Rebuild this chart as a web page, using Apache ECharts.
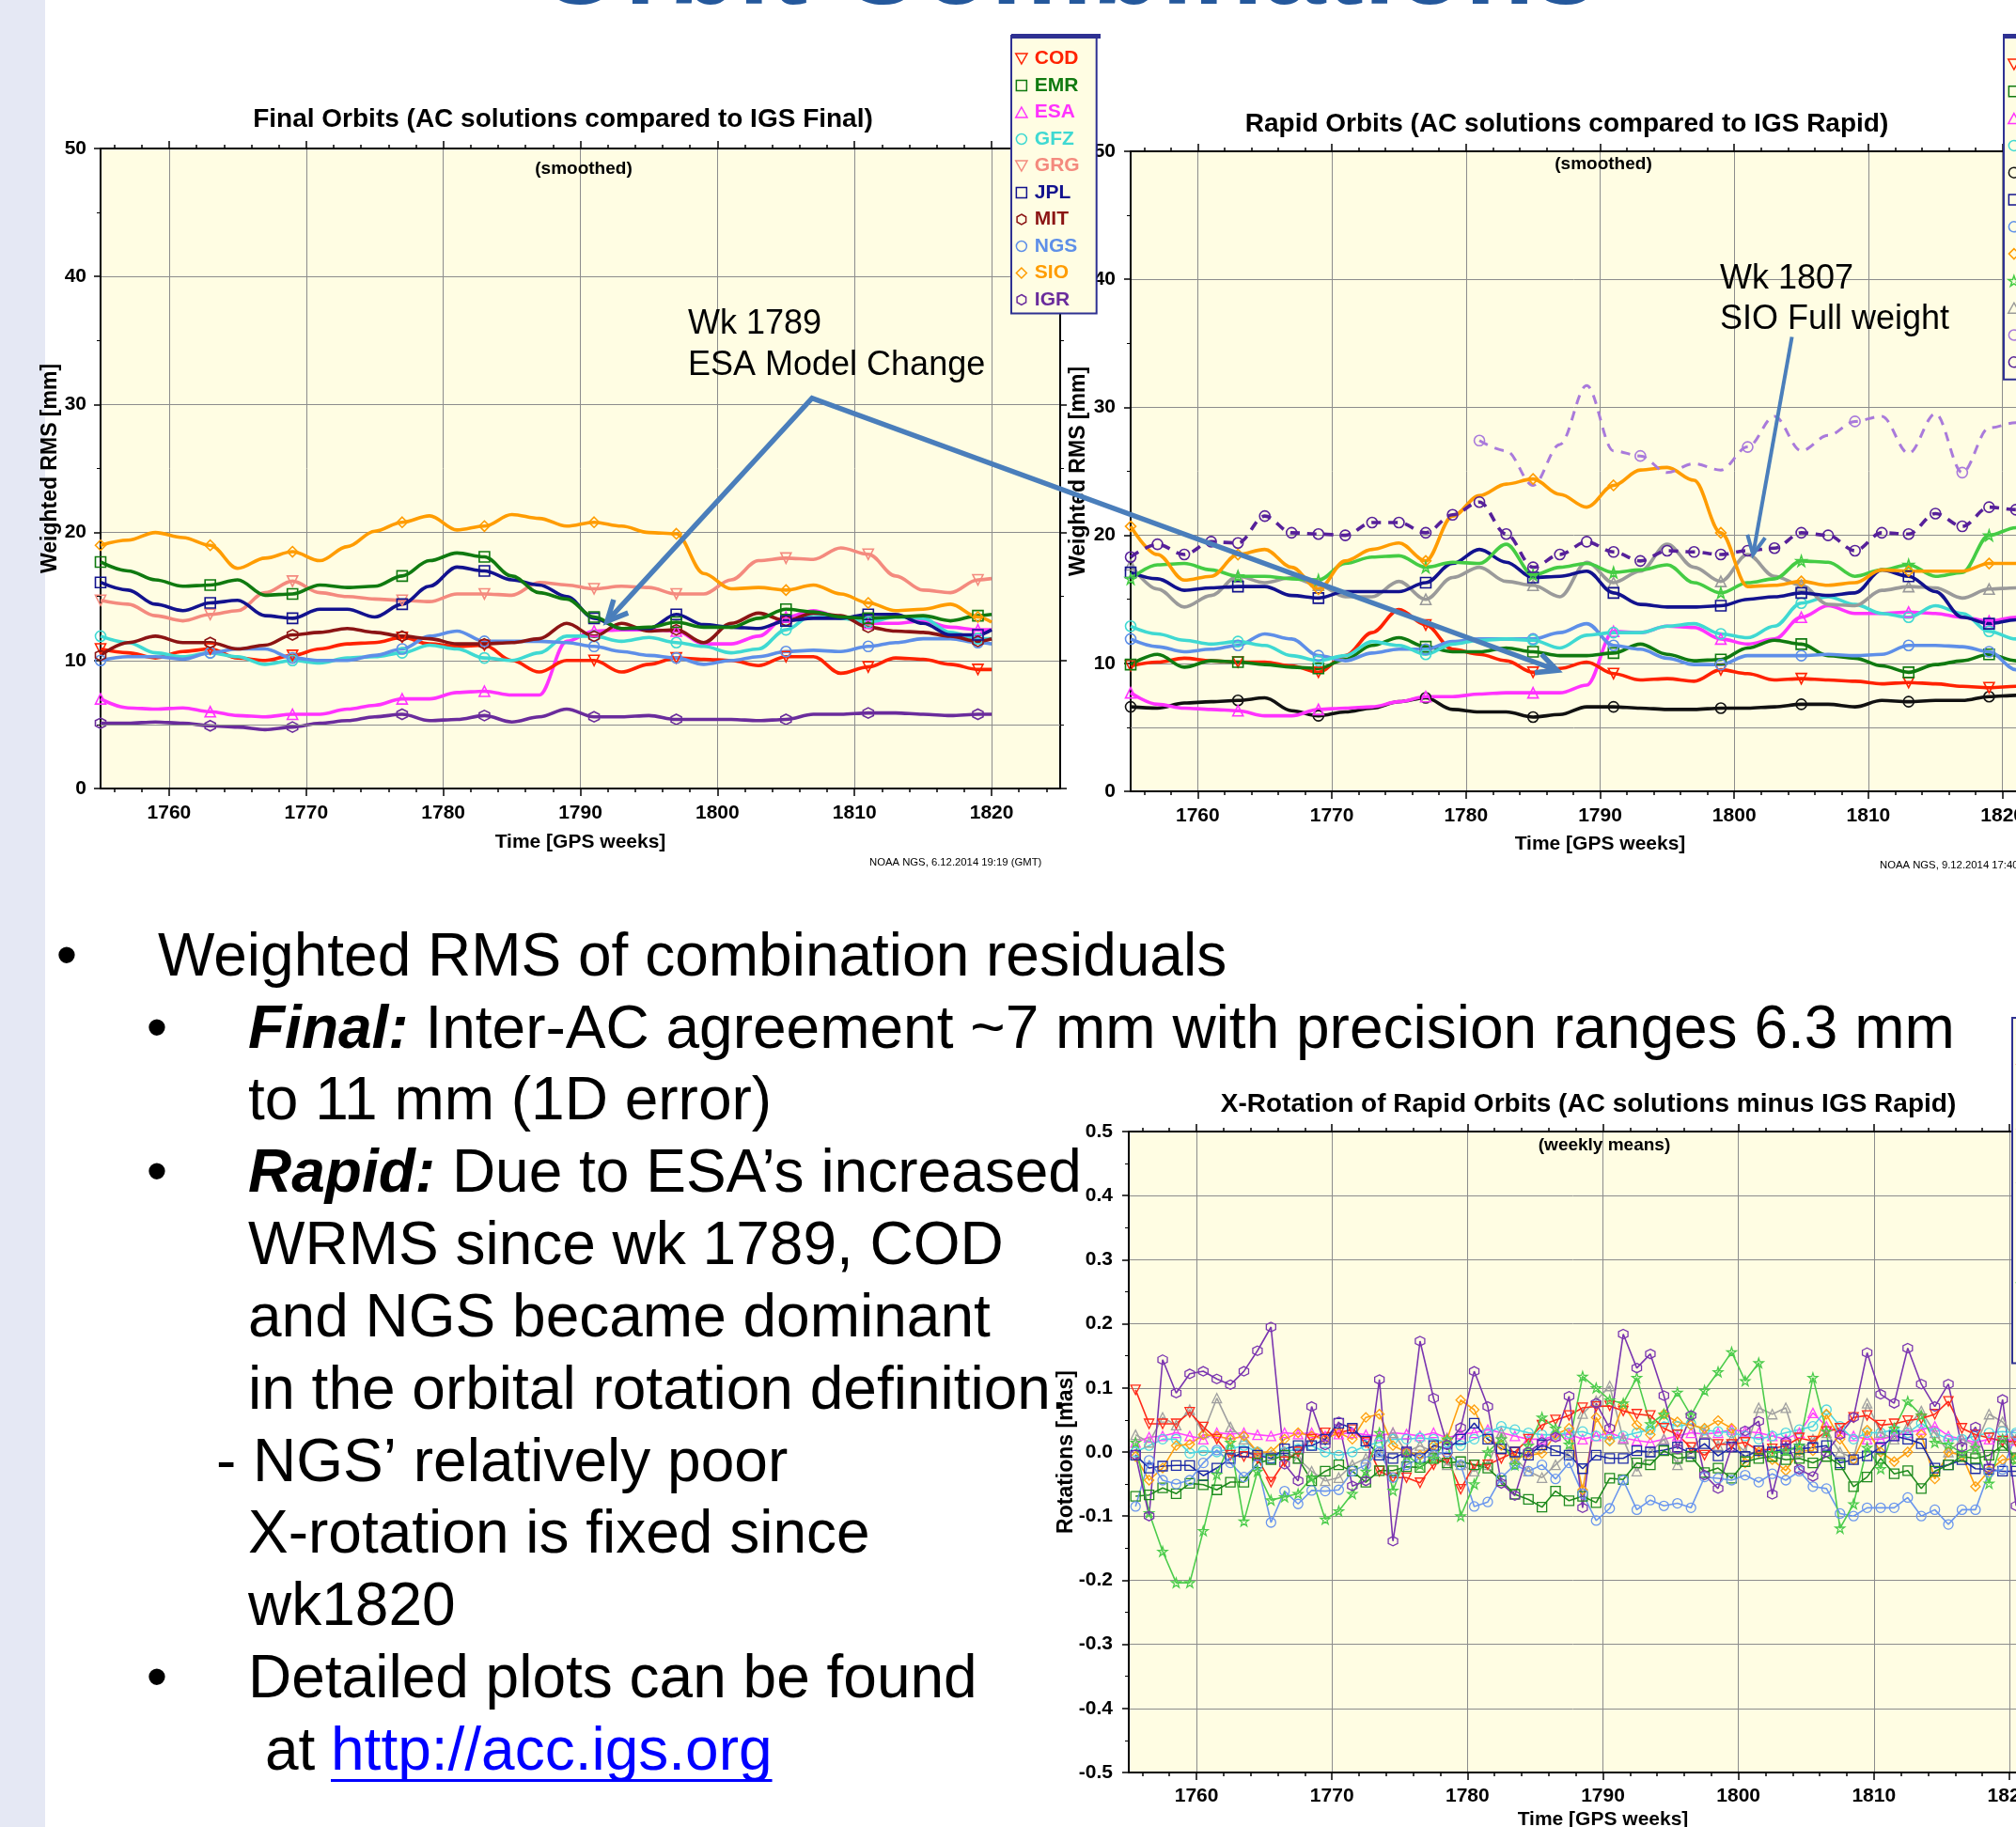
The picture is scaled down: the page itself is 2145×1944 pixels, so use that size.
<!DOCTYPE html>
<html>
<head>
<meta charset="utf-8">
<title>Orbit Combinations</title>
<script src="https://cdn.jsdelivr.net/npm/echarts@6.0.0/dist/echarts.min.js"></script>
<style>
html,body{margin:0;padding:0;background:#ffffff;overflow:hidden;}
#chart{width:2145px;height:1944px;}
</style>
</head>
<body>
<div id="chart"></div>
<script>
// ===================== DATA =====================
// Final orbits: smoothed WRMS [mm] vs GPS week
const finalWeeks = [1755,1757,1759,1761,1763,1765,1767,1769,1771,1773,1775,1777,1779,1781,1783,1785,1787,1789,1791,1793,1795,1797,1799,1801,1803,1805,1807,1809,1811,1813,1815,1817,1819,1820];
const finalSIO = [19.0,19.4,20.0,19.6,19.0,17.2,18.0,18.5,17.8,18.9,20.1,20.8,21.3,20.2,20.5,21.4,21.1,20.5,20.8,20.5,20.0,19.9,16.8,15.6,15.7,15.5,15.9,15.2,14.5,13.9,14.0,14.4,13.4,13.0];
const finalEMR = [17.7,17.0,16.3,15.8,15.9,16.3,15.1,15.2,15.9,15.7,15.8,16.6,17.8,18.4,18.1,16.6,15.3,14.8,13.4,12.5,12.6,13.0,12.6,12.6,13.3,14.0,13.8,13.4,13.3,13.4,13.5,13.1,13.5,13.6];
const finalJPL = [16.1,15.5,14.4,13.9,14.5,14.7,13.5,13.3,14.0,14.0,13.4,14.4,15.8,17.3,17.0,16.3,15.9,15.0,13.3,12.5,12.5,13.6,12.8,12.6,12.5,13.1,13.3,13.3,13.6,13.6,12.9,12.0,12.0,12.4];
const finalGRG = [14.7,14.4,13.5,13.1,13.6,13.9,15.3,16.2,15.3,15.0,14.8,14.7,14.6,15.2,15.2,15.1,16.1,15.9,15.6,15.8,15.7,15.2,15.2,16.3,17.8,18.0,17.9,18.8,18.3,16.6,15.5,15.3,16.3,16.4];
const finalMIT = [10.4,11.4,11.9,11.4,11.4,10.9,11.2,12.0,12.2,12.5,12.2,11.9,11.7,11.3,11.3,11.4,11.7,12.9,11.9,12.9,12.3,12.4,11.4,12.9,13.7,13.1,13.7,13.5,12.6,12.3,12.2,11.9,11.5,11.7];
const finalCOD = [10.9,10.6,10.2,10.7,10.9,10.2,10.0,10.4,10.9,11.3,11.4,11.8,11.3,11.1,11.2,10.0,9.1,10.0,10.0,9.1,9.7,10.2,10.1,10.0,9.6,10.3,10.3,9.0,9.5,10.2,10.1,9.7,9.3,9.3];
const finalGFZ = [11.9,11.4,10.6,10.3,10.6,10.3,9.7,10.0,9.8,10.2,10.3,10.6,11.2,10.9,10.2,10.0,10.6,11.9,11.9,11.5,11.8,11.4,11.1,10.6,10.9,12.4,13.6,13.3,13.0,13.4,13.3,12.2,11.7,11.7];
const finalNGS = [10.0,10.3,10.3,10.1,10.6,10.9,10.9,10.2,10.0,10.0,10.4,10.9,11.9,12.3,11.5,11.5,11.5,11.4,11.1,10.7,10.4,10.2,9.7,10.0,10.3,10.7,10.8,10.7,11.1,11.4,11.7,11.7,11.4,11.3];
const finalESA = [7.0,6.3,6.2,6.3,6.0,5.7,5.6,5.8,5.8,6.2,6.5,7.0,7.0,7.5,7.6,7.3,7.3,11.5,12.3,12.4,12.4,12.3,11.3,11.3,11.9,13.4,13.9,13.4,12.9,12.9,13.1,12.6,12.4,12.4];
const finalIGR = [5.1,5.1,5.2,5.1,4.9,4.8,4.6,4.8,5.1,5.3,5.6,5.8,5.3,5.4,5.7,5.2,5.6,6.2,5.6,5.6,5.7,5.4,5.4,5.4,5.3,5.4,5.8,5.8,5.9,5.9,5.8,5.7,5.8,5.8];
const finalMarkWeeks = [1755,1763,1769,1777,1783,1791,1797,1805,1811,1819];

// Rapid orbits: smoothed WRMS [mm] vs GPS week
const rapidWeeks = [1755,1757,1759,1761,1763,1765,1767,1769,1771,1773,1775,1777,1779,1781,1783,1785,1787,1789,1791,1793,1795,1797,1799,1801,1803,1805,1807,1809,1811,1813,1815,1817,1819,1821,1823];
const rapidSIO = [20.7,18.5,16.5,16.8,18.5,18.9,17.5,15.8,18.0,18.9,19.4,18.0,21.5,23.1,24.0,24.4,23.2,22.2,23.9,25.1,25.3,24.3,20.2,16.0,16.1,16.4,16.1,16.3,17.3,17.2,17.2,17.2,17.8,17.8,17.8];
const rapidUSN = [16.6,17.7,17.8,17.3,16.8,16.8,16.6,16.5,17.8,18.3,18.4,17.5,17.9,17.8,19.3,16.9,17.5,17.8,17.1,17.3,17.7,16.3,15.5,16.3,16.6,18.0,17.9,16.8,17.3,17.7,16.8,17.1,20.0,20.6,20.6];
const rapidJPL = [17.1,16.6,15.7,15.9,16.0,16.0,15.3,15.1,15.6,15.6,15.6,16.3,17.8,18.9,17.9,16.7,16.8,17.2,15.5,14.6,14.4,14.4,14.5,15.0,15.2,15.5,15.3,15.5,17.3,16.8,15.6,13.6,13.1,13.4,13.4];
const rapidWHU = [17.7,15.8,14.4,15.3,16.8,16.3,16.7,16.1,15.2,15.2,16.4,15.0,16.7,17.5,16.4,16.1,15.2,17.9,16.3,17.2,19.3,17.5,16.4,18.5,16.8,16.1,14.6,14.5,15.7,16.0,15.9,15.1,15.8,15.9,15.9];
const rapidGFZ = [12.9,12.3,11.8,11.5,11.7,11.4,10.6,10.2,10.6,11.7,11.4,10.7,11.5,11.8,11.9,11.8,11.2,12.2,12.4,12.4,12.9,13.1,12.3,12.0,12.9,14.7,15.2,14.6,13.9,13.6,14.5,13.9,12.5,11.9,11.9];
const rapidNGS = [11.9,11.3,10.9,11.1,11.4,12.3,11.9,10.6,10.2,10.8,11.1,11.1,11.7,11.9,11.9,11.9,12.4,13.1,11.4,11.1,10.4,9.9,9.9,10.6,10.6,10.6,10.7,10.6,10.7,11.4,11.4,11.3,10.9,9.5,9.2];
const rapidESA = [7.7,6.8,6.5,6.4,6.3,5.9,5.9,6.4,6.5,6.6,7.0,7.4,7.4,7.6,7.7,7.7,7.7,8.3,12.5,12.4,12.9,12.8,11.9,11.5,11.9,13.6,14.5,13.9,13.9,14.0,13.9,13.6,13.3,13.6,13.6];
const rapidEMR = [9.9,10.7,9.7,10.2,10.1,9.9,9.7,9.6,10.3,11.4,12.0,11.3,10.9,10.9,11.2,10.9,10.6,10.6,10.8,11.5,10.7,10.2,10.3,11.2,11.8,11.5,10.6,10.4,9.8,9.3,9.9,10.2,10.7,10.2,9.9];
const rapidCOD = [9.8,10.1,10.4,10.2,10.1,10.1,9.8,9.3,10.6,12.4,14.2,13.0,11.1,10.7,10.2,9.3,9.6,10.1,9.2,8.7,8.8,8.6,9.5,9.2,8.7,8.8,8.7,8.6,8.4,8.5,8.4,8.2,8.1,8.2,8.2];
const rapidGRG = [6.6,6.5,6.9,7.0,7.1,7.3,6.3,5.9,6.2,6.5,7.0,7.3,6.4,6.2,6.2,5.8,6.0,6.6,6.6,6.5,6.4,6.4,6.5,6.5,6.6,6.8,6.8,6.6,7.1,7.0,7.1,7.1,7.4,7.5,7.5];
const rapidIGR = [18.3,19.3,18.5,19.5,19.4,21.5,20.2,20.1,20.0,21.0,21.0,20.2,21.6,22.6,20.1,17.5,18.5,19.5,18.7,18.0,18.8,18.7,18.5,18.8,19.0,20.2,20.0,18.8,20.2,20.1,21.7,20.7,22.2,22.0,21.7];
const rapidIGV = [null,null,null,null,null,null,null,null,null,null,null,null,null,27.4,26.6,23.9,27.1,31.7,26.6,26.2,24.9,25.6,25.1,26.9,29.3,26.6,27.8,28.9,29.3,26.4,29.5,24.9,28.4,28.8,28.5];
const rapidMarkWeeks = [1755,1763,1769,1777,1785,1791,1799,1805,1813,1819];
const rapidIGVMarkWeeks = [1781,1793,1801,1809,1817];

// X-rotation of rapid orbits: weekly means [mas], GPS weeks 1755..1820
const rotWeeks = [1755,1756,1757,1758,1759,1760,1761,1762,1763,1764,1765,1766,1767,1768,1769,1770,1771,1772,1773,1774,1775,1776,1777,1778,1779,1780,1781,1782,1783,1784,1785,1786,1787,1788,1789,1790,1791,1792,1793,1794,1795,1796,1797,1798,1799,1800,1801,1802,1803,1804,1805,1806,1807,1808,1809,1810,1811,1812,1813,1814,1815,1816,1817,1818,1819,1820];
const rotCOD = [0.097,0.044,0.044,0.044,0.062,0.039,0.02,-0.005,-0.007,-0.01, -0.047,-0.015,0.0,0.02,0.03,0.03,0.035,0.015,-0.03,-0.04, -0.04,-0.048,-0.02,-0.01,-0.058,-0.02,-0.02,-0.01,0.0,0.02, 0.042,0.05,0.057,0.069,0.071,0.072,0.064,0.059,0.057,0.037, 0.027,0.007,-0.005,0.012,0.012,0.015,0.002,0.005,0.01,0.022, 0.017,0.032,0.037,0.054,0.057,0.042,0.044,0.049,0.052,0.059, 0.079,0.037,0.027,0.022,0.017,0.016];
const rotEMR = [-0.069,-0.067,-0.056,-0.065,-0.049,-0.051,-0.059,-0.047,-0.047,-0.017, -0.012,-0.005,-0.01,-0.045,-0.03,-0.02,-0.03,-0.047,-0.029,-0.029, -0.023,-0.024,-0.01,-0.017,-0.015,-0.02,-0.025,-0.045,-0.066,-0.074, -0.086,-0.061,-0.076,-0.069,-0.079,-0.041,-0.043,-0.017,-0.02,0.002, -0.01,-0.007,-0.032,-0.025,-0.041,-0.015,-0.01,-0.007,-0.012,-0.01, -0.017,-0.007,-0.02,-0.054,-0.039,-0.01,-0.034,-0.029,-0.057,-0.03, -0.02,-0.007,-0.01,-0.005,0.01,-0.01];
const rotESA = [0.015,0.023,0.025,0.03,0.025,0.02,0.03,0.028,0.03,0.027, 0.025,0.03,0.028,0.03,0.025,0.028,0.03,0.027,0.025,0.03, 0.028,0.025,0.03,0.022,0.028,0.03,0.035,0.03,0.025,0.02, 0.02,0.025,0.028,0.02,0.025,0.03,0.022,0.018,0.015,0.02, 0.025,0.03,0.028,0.03,0.035,0.032,0.03,0.025,0.02,0.03, 0.061,0.04,0.03,0.025,0.02,0.02,0.025,0.03,0.035,0.04, 0.025,0.02,0.015,0.02,0.02,0.018];
const rotGFZ = [0.0,0.01,0.02,0.02,-0.002,0.002,0.0,0.005,0.01,0.0, -0.01,0.0,0.005,0.01,0.0,-0.005,0.0,0.01,0.015,0.02, 0.02,0.022,0.02,0.015,0.01,0.02,0.03,0.04,0.035,0.03, 0.027,0.027,0.03,0.032,0.025,0.02,0.025,0.03,0.035,0.047, 0.04,0.044,0.034,0.032,0.03,0.025,0.02,0.025,0.03,0.035, 0.04,0.066,0.04,0.02,0.03,0.03,0.035,0.03,0.045,0.03, 0.02,0.02,0.025,0.03,0.032,0.03];
const rotJPL = [-0.005,-0.025,-0.022,-0.021,-0.021,-0.037,-0.025,-0.01,0.0,-0.005, -0.01,0.005,0.01,0.01,0.02,0.045,0.037,0.017,-0.005,-0.01, 0.0,-0.01,0.01,0.005,0.02,0.045,0.02,0.005,0.0,-0.005, 0.011,0.002,-0.005,-0.026,-0.005,-0.01,-0.01,0.002,0.0,0.003, 0.008,-0.002,0.013,-0.006,0.008,-0.007,0.002,0.0,0.005,0.005, 0.007,0.01,-0.017,-0.012,-0.006,0.007,0.025,0.02,0.013,-0.025, -0.02,-0.012,-0.026,-0.027,-0.03,-0.03];
const rotNGS = [-0.085,-0.013,-0.044,-0.05,-0.044,-0.017,0.003,-0.017,-0.039,-0.02, -0.11,-0.061,-0.081,-0.06,-0.061,-0.059,-0.03,-0.02,0.0,-0.04, -0.02,-0.01,-0.005,0.0,-0.02,-0.085,-0.078,-0.04,-0.02,-0.03, -0.02,-0.042,-0.017,-0.065,-0.107,-0.088,-0.044,-0.09,-0.075,-0.084, -0.08,-0.087,-0.039,-0.041,-0.044,-0.036,-0.047,-0.034,-0.044,-0.03, -0.054,-0.057,-0.096,-0.1,-0.087,-0.087,-0.087,-0.071,-0.1,-0.09, -0.113,-0.09,-0.09,-0.032,-0.027,0.027];
const rotSIO = [-0.007,-0.044,-0.025,0.01,0.012,0.027,0.025,0.02,0.025,0.0, 0.0,0.02,0.03,0.025,0.02,0.03,0.02,0.054,0.059,0.01, 0.0,-0.005,0.01,0.02,0.081,0.066,0.02,0.01,-0.01,-0.005, -0.002,0.027,0.037,-0.059,0.054,0.017,0.074,0.042,0.027,0.059, 0.047,0.042,0.037,0.049,0.037,-0.017,0.0,-0.012,-0.029,0.002, 0.002,0.059,0.02,-0.012,0.034,0.0,-0.015,0.0,0.027,-0.042, 0.0,-0.005,-0.054,-0.029,-0.012,-0.01];
const rotUSN = [0.015,-0.095,-0.155,-0.204,-0.204,-0.123,-0.035,0.015,-0.108,-0.03, -0.075,-0.07,-0.065,-0.04,-0.105,-0.092,-0.065,-0.03,0.03,-0.06, -0.005,-0.02,-0.01,0.02,-0.1,-0.05,0.0,0.02,-0.02,0.01, 0.054,0.037,0.012,0.118,0.1,0.081,0.076,0.116,0.044,0.059, 0.093,0.057,0.096,0.125,0.156,0.111,0.139,-0.002,0.002,0.01, 0.116,0.032,-0.119,-0.081,0.007,-0.026,0.037,0.079,0.057,0.015, 0.012,-0.002,0.007,-0.049,0.02,-0.012];
const rotGRG = [0.027,0.015,0.054,0.042,0.066,0.03,0.084,0.039,0.02,0.0, -0.005,0.0,-0.01,-0.03,-0.045,-0.04,-0.02,-0.01,0.0,0.03, 0.0,0.01,0.0,-0.02,-0.02,-0.03,-0.02,0.03,-0.01,-0.03, -0.04,-0.02,0.0,0.06,0.08,0.103,0.02,-0.03,0.0,0.02, -0.02,0.0,0.03,0.01,0.02,0.0,0.069,0.059,0.069,0.0, 0.02,0.03,0.0,-0.01,0.076,0.03,0.02,0.04,0.064,0.03, 0.0,0.02,0.01,0.059,0.047,0.02];
const rotWHU = [-0.004,-0.10,0.144,0.092,0.122,0.126,0.114,0.105,0.126,0.158, 0.195,-0.019,-0.045,0.071,0.011,0.047,-0.053,-0.045,0.113,-0.139, 0.0,0.173,0.084,0.011,0.038,0.126,0.071,-0.049,-0.068,0.0, 0.015,0.023,0.087,-0.087,0.076,0.037,0.184,0.131,0.153,0.088, 0.005,0.057,-0.036,-0.057,0.008,0.033,0.048,-0.066,0.016,-0.027, -0.038,0.0,0.027,0.054,0.155,0.090,0.076,0.162,0.106,0.071, 0.106,0.008,0.039,-0.025,0.082,-0.084];

// Axis tick values
const weekLabels = [1760,1770,1780,1790,1800,1810,1820];
const weekMinorTicks = [1756,1758,1762,1764,1766,1768,1772,1774,1776,1778,1782,1784,1786,1788,1792,1794,1796,1798,1802,1804,1806,1808,1812,1814,1816,1818,1822,1824];

// Legend order
const finalLegendNames = ['COD','EMR','ESA','GFZ','GRG','JPL','MIT','NGS','SIO','IGR'];
const rapidLegendNames = ['COD','EMR','ESA','GFZ','GRG','JPL','NGS','SIO','USN','WHU','IGV','IGR'];
const rotLegendNames = ['COD','EMR','ESA','GFZ','GRG','JPL','NGS','SIO','USN','WHU'];

// Annotation anchor points (data coordinates)
const annESAtipFinal = [1791.95, 13.07];
const annESAapexFinal = [1806.9, 30.5];
const annESAtipRapid = [1786.8, 9.45];
const annSIOstartRapid = [1804.3, 35.5];
const annSIOtipRapid = [1801.4, 18.5];

// ===================== STYLE =====================
const FONT = "'Liberation Sans', Arial, Helvetica, sans-serif";
const INV = 'path://M0,0L10,0L5,9Z';
const TRI = 'path://M5,0L10,9L0,9Z';
const SQ = 'path://M0,0L10,0L10,10L0,10Z';
const DIA = 'path://M5,0L10,5L5,10L0,5Z';
const HEX = 'path://M5,0L9.33,2.5L9.33,7.5L5,10L0.67,7.5L0.67,2.5Z';
const STAR = 'path://M50,0L61.8,35.1L98.9,35.1L68.8,56.8L80.3,91.9L50,70.3L19.7,91.9L31.2,56.8L1.1,35.1L38.2,35.1Z';
const BG = '#FFFDE3';
const GRIDC = '#8c8c8c';

const finalStyle = {
  COD:{c:'#FF2200', sym:INV}, EMR:{c:'#107A10', sym:SQ}, ESA:{c:'#FF33FF', sym:TRI},
  GFZ:{c:'#3FD9D2', sym:'circle'}, GRG:{c:'#F48A7E', sym:INV}, JPL:{c:'#12128E', sym:SQ},
  MIT:{c:'#8B1414', sym:HEX}, NGS:{c:'#5E8FE8', sym:'circle'}, SIO:{c:'#FF9C00', sym:DIA},
  IGR:{c:'#6A2C9C', sym:HEX}
};
const rapidStyle = {
  COD:{c:'#FF2200', sym:INV}, EMR:{c:'#107A10', sym:SQ}, ESA:{c:'#FF33FF', sym:TRI},
  GFZ:{c:'#3FD9D2', sym:'circle'}, GRG:{c:'#111111', sym:'circle'}, JPL:{c:'#12128E', sym:SQ},
  NGS:{c:'#5E8FE8', sym:'circle'}, SIO:{c:'#FF9C00', sym:DIA}, USN:{c:'#44CC44', sym:STAR},
  WHU:{c:'#9A9A9A', sym:TRI}, IGV:{c:'#A97ADB', sym:'circle', dash:true},
  IGR:{c:'#56209A', sym:'circle', dash:true}
};
const rotStyle = {
  COD:{c:'#FF2A1A', sym:INV}, EMR:{c:'#1E8A1E', sym:SQ}, ESA:{c:'#FF44FF', sym:TRI},
  GFZ:{c:'#4FD6E2', sym:'circle'}, GRG:{c:'#A0A0A0', sym:TRI}, JPL:{c:'#1C2AA8', sym:SQ},
  NGS:{c:'#6A96EE', sym:'circle'}, SIO:{c:'#FFA010', sym:DIA}, USN:{c:'#4CCC4C', sym:STAR},
  WHU:{c:'#7A35B0', sym:HEX}
};

// ===================== BUILDERS =====================
function xAxes(g, nameGap, labelMargin) {
  const base = {gridIndex:g, type:'value', min:1755, max:1825, interval:10};
  const tickStyle = {color:'#000', width:1.5};
  return [
    Object.assign({}, base, {position:'bottom',
      axisLine:{show:true, onZero:false, lineStyle:{color:'#000', width:2}},
      axisTick:{show:true, inside:false, customValues:weekLabels, length:8, lineStyle:tickStyle},
      axisLabel:{show:true, customValues:weekLabels, margin:labelMargin, color:'#000', fontSize:21, fontWeight:'bold', fontFamily:FONT,
                 formatter: v => String(v)},
      splitLine:{show:true, lineStyle:{color:GRIDC, width:1}},
      name:'Time [GPS weeks]', nameLocation:'middle', nameGap:nameGap, nameMoveOverlap:false,
      nameTextStyle:{color:'#000', fontSize:21, fontWeight:'bold', fontFamily:FONT}}),
    Object.assign({}, base, {position:'bottom',
      axisLine:{show:false, onZero:false}, axisLabel:{show:false}, splitLine:{show:false},
      axisTick:{show:true, customValues:weekMinorTicks, length:4, lineStyle:tickStyle}}),
    Object.assign({}, base, {position:'top',
      axisLine:{show:true, onZero:false, lineStyle:{color:'#000', width:2}}, axisLabel:{show:false}, splitLine:{show:false},
      axisTick:{show:true, customValues:weekLabels, length:8, lineStyle:tickStyle}}),
    Object.assign({}, base, {position:'top',
      axisLine:{show:false, onZero:false}, axisLabel:{show:false}, splitLine:{show:false},
      axisTick:{show:true, customValues:weekMinorTicks, length:4, lineStyle:tickStyle}})
  ];
}
function yAxes(g, min, max, interval, name, nameGap, labelMargin, fmt) {
  const tickStyle = {color:'#000', width:1.5};
  return [
    {gridIndex:g, type:'value', min, max, interval, position:'left',
      axisLine:{show:true, onZero:false, lineStyle:{color:'#000', width:2}},
      axisTick:{show:true, length:7, lineStyle:tickStyle},
      minorTick:{show:true, splitNumber:2, length:4, lineStyle:{color:'#000', width:1}},
      axisLabel:{show:true, margin:labelMargin, color:'#000', fontSize:21, fontWeight:'bold', fontFamily:FONT,
                 formatter: fmt || (v => String(v))},
      splitLine:{show:true, lineStyle:{color:GRIDC, width:1}},
      name, nameLocation:'middle', nameGap, nameMoveOverlap:false,
      nameTextStyle:{color:'#000', fontSize:23, fontWeight:'bold', fontFamily:FONT}},
    {gridIndex:g, type:'value', min, max, interval, position:'right',
      axisLine:{show:true, onZero:false, lineStyle:{color:'#000', width:2}},
      axisTick:{show:true, length:7, lineStyle:tickStyle},
      minorTick:{show:true, splitNumber:2, length:4, lineStyle:{color:'#000', width:1}},
      axisLabel:{show:false}, splitLine:{show:false}}
  ];
}
function smoothSeries(name, weeks, vals, st, xi, yi, markWeeks, extra) {
  return Object.assign({
    type:'line', name, xAxisIndex:xi, yAxisIndex:yi,
    data: weeks.map((w, i) => [w, vals[i]]),
    smooth:0.35, smoothMonotone:'x', showAllSymbol:true, connectNulls:false,
    symbol: st.sym,
    symbolSize: (v) => (markWeeks.indexOf(v[0]) >= 0 && v[1] != null) ? 11 : 0,
    lineStyle:{color:st.c, width:3.6, type: st.dash ? [10, 8] : 'solid'},
    itemStyle:{color:'rgba(0,0,0,0)', borderColor:st.c, borderWidth:1.6},
    emphasis:{disabled:true}, silent:true, z:2
  }, extra || {});
}
function rotSeries(name, vals, st) {
  return {
    type:'line', name, xAxisIndex:8, yAxisIndex:4,
    data: rotWeeks.map((w, i) => [w + 0.5, vals[i]]),   // weekly means plotted mid-week
    showAllSymbol:true, symbol: st.sym, symbolSize:10,
    lineStyle:{color:st.c, width:1.6},
    itemStyle:{color:'rgba(0,0,0,0)', borderColor:st.c, borderWidth:1.3},
    emphasis:{disabled:true}, silent:true, z:2
  };
}
function mkLegend(names, styleMap, left, top, padding, gap) {
  return {
    left, top, orient:'vertical', selectedMode:false,
    itemWidth:18, itemHeight:11, itemGap:gap, padding, symbolKeepAspect:true,
    backgroundColor:BG, borderColor:'#2E3192', borderWidth:2, borderRadius:0,
    textStyle:{fontFamily:FONT, fontSize:21, fontWeight:'bold', lineHeight:20},
    data: names.map(n => ({
      name:n, icon: styleMap[n].sym,
      itemStyle:{color:'rgba(0,0,0,0)', borderColor:styleMap[n].c, borderWidth:1.5},
      textStyle:{color:styleMap[n].c}
    }))
  };
}
const gridBase = {show:true, backgroundColor:BG, borderWidth:0, containLabel:false, outerBoundsMode:'none'};
const fiveLine = {silent:true, symbol:'none', label:{show:false},
  lineStyle:{color:GRIDC, width:1, type:'solid'}, data:[{yAxis:5}]};

// ===================== OPTION =====================
const option = {
  animation:false,
  backgroundColor:'#ffffff',
  grid:[
    Object.assign({left:107, top:158, width:1021, height:681}, gridBase),
    Object.assign({left:1203, top:161, width:999, height:681}, gridBase),
    Object.assign({left:1201, top:1204, width:1009, height:682}, gridBase)
  ],
  xAxis:[].concat(xAxes(0, 47, 16), xAxes(1, 46, 16), xAxes(2, 40, 15)),
  yAxis:[].concat(
    yAxes(0, 0, 50, 10, 'Weighted RMS [mm]', 42, 15),
    yAxes(1, 0, 50, 10, 'Weighted RMS [mm]', 44, 16),
    yAxes(2, -0.5, 0.5, 0.1, 'Rotations [mas]', 55, 17, v => v.toFixed(1))
  ),
  legend:[
    mkLegend(finalLegendNames, finalStyle, 1076, 38, [14, 18, 4, 4], 7.5),
    mkLegend(rapidLegendNames, rapidStyle, 2132, 38, [20, 18, 8, 4], 7.8),
    mkLegend(rotLegendNames, rotStyle, 2141, 1083, [45, 18, 45, 4], 7.5)
  ],
  series:[
    // Final
    smoothSeries('IGR', finalWeeks, finalIGR, finalStyle.IGR, 0, 0, finalMarkWeeks, {markLine:fiveLine}),
    smoothSeries('ESA', finalWeeks, finalESA, finalStyle.ESA, 0, 0, finalMarkWeeks),
    smoothSeries('COD', finalWeeks, finalCOD, finalStyle.COD, 0, 0, finalMarkWeeks),
    smoothSeries('GFZ', finalWeeks, finalGFZ, finalStyle.GFZ, 0, 0, finalMarkWeeks),
    smoothSeries('NGS', finalWeeks, finalNGS, finalStyle.NGS, 0, 0, finalMarkWeeks),
    smoothSeries('MIT', finalWeeks, finalMIT, finalStyle.MIT, 0, 0, finalMarkWeeks),
    smoothSeries('GRG', finalWeeks, finalGRG, finalStyle.GRG, 0, 0, finalMarkWeeks),
    smoothSeries('JPL', finalWeeks, finalJPL, finalStyle.JPL, 0, 0, finalMarkWeeks),
    smoothSeries('EMR', finalWeeks, finalEMR, finalStyle.EMR, 0, 0, finalMarkWeeks),
    smoothSeries('SIO', finalWeeks, finalSIO, finalStyle.SIO, 0, 0, finalMarkWeeks),
    // Rapid
    smoothSeries('GRG', rapidWeeks, rapidGRG, rapidStyle.GRG, 4, 2, rapidMarkWeeks, {markLine:fiveLine}),
    smoothSeries('ESA', rapidWeeks, rapidESA, rapidStyle.ESA, 4, 2, rapidMarkWeeks),
    smoothSeries('COD', rapidWeeks, rapidCOD, rapidStyle.COD, 4, 2, rapidMarkWeeks),
    smoothSeries('EMR', rapidWeeks, rapidEMR, rapidStyle.EMR, 4, 2, rapidMarkWeeks),
    smoothSeries('NGS', rapidWeeks, rapidNGS, rapidStyle.NGS, 4, 2, rapidMarkWeeks),
    smoothSeries('GFZ', rapidWeeks, rapidGFZ, rapidStyle.GFZ, 4, 2, rapidMarkWeeks),
    smoothSeries('WHU', rapidWeeks, rapidWHU, rapidStyle.WHU, 4, 2, rapidMarkWeeks),
    smoothSeries('JPL', rapidWeeks, rapidJPL, rapidStyle.JPL, 4, 2, rapidMarkWeeks),
    smoothSeries('USN', rapidWeeks, rapidUSN, rapidStyle.USN, 4, 2, rapidMarkWeeks),
    smoothSeries('SIO', rapidWeeks, rapidSIO, rapidStyle.SIO, 4, 2, rapidMarkWeeks),
    smoothSeries('IGR', rapidWeeks, rapidIGR, rapidStyle.IGR, 4, 2, rapidWeeks),
    smoothSeries('IGV', rapidWeeks, rapidIGV, rapidStyle.IGV, 4, 2, rapidIGVMarkWeeks, {lineStyle:{color:rapidStyle.IGV.c, width:3, type:[10,8]}}),
    // X-rotation
    rotSeries('ESA', rotESA, rotStyle.ESA),
    rotSeries('GFZ', rotGFZ, rotStyle.GFZ),
    rotSeries('GRG', rotGRG, rotStyle.GRG),
    rotSeries('SIO', rotSIO, rotStyle.SIO),
    rotSeries('COD', rotCOD, rotStyle.COD),
    rotSeries('JPL', rotJPL, rotStyle.JPL),
    rotSeries('EMR', rotEMR, rotStyle.EMR),
    rotSeries('NGS', rotNGS, rotStyle.NGS),
    rotSeries('USN', rotUSN, rotStyle.USN),
    rotSeries('WHU', rotWHU, rotStyle.WHU)
  ]
};

const chart = echarts.init(document.getElementById('chart'), null, {renderer:'canvas', width:2145, height:1944});
chart.setOption(option);

// ===================== SLIDE TEXT & ANNOTATIONS =====================
const ARROW = '#4A7EBB';
function txt(x, y, text, font, fill, align, extra) {
  return Object.assign({type:'text', x, y, silent:true, z:50,
    style:{text, font, fill:fill || '#000', align:align || 'left', verticalAlign:'middle',
           textAlign:align || 'left', textVerticalAlign:'middle'}}, extra || {});
}
function head(tip, from, len, ang) {
  const dx = from[0] - tip[0], dy = from[1] - tip[1];
  const L = Math.hypot(dx, dy), ux = dx / L, uy = dy / L;
  const r = a => [tip[0] + len * (ux * Math.cos(a) - uy * Math.sin(a)), tip[1] + len * (ux * Math.sin(a) + uy * Math.cos(a))];
  return [r(ang), tip, r(-ang)];
}
const pF = pt => chart.convertToPixel({xAxisIndex:0, yAxisIndex:0}, pt);
const pR = pt => chart.convertToPixel({xAxisIndex:4, yAxisIndex:2}, pt);
const tipL = pF(annESAtipFinal), apex = pF(annESAapexFinal), tipR = pR(annESAtipRapid);
const sioS = pR(annSIOstartRapid), sioT = pR(annSIOtipRapid);

const BODY = '64px ' + FONT;
const mctx = document.createElement('canvas').getContext('2d');
mctx.font = BODY;
const linkText = 'http://acc.igs.org';
const linkW = mctx.measureText(linkText).width;
const RICH = {bi:{fontStyle:'italic', fontWeight:'bold', fontSize:64, fontFamily:FONT, fill:'#000'}};

const graphics = [
  {type:'rect', shape:{x:0, y:0, width:48, height:1944}, style:{fill:'#E5E8F4'}, silent:true, z:-5},
  txt(1135, -29, 'Orbit Combinations', 'bold 121px ' + FONT, '#24589C', 'center'),
  // chart titles
  txt(599, 127, 'Final Orbits (AC solutions compared to IGS Final)', 'bold 28px ' + FONT, '#000', 'center'),
  txt(621, 180, '(smoothed)', 'bold 19px ' + FONT, '#000', 'center'),
  txt(1667, 132, 'Rapid Orbits (AC solutions compared to IGS Rapid)', 'bold 28px ' + FONT, '#000', 'center'),
  txt(1706, 175, '(smoothed)', 'bold 19px ' + FONT, '#000', 'center'),
  txt(1690, 1175, 'X-Rotation of Rapid Orbits (AC solutions minus IGS Rapid)', 'bold 28px ' + FONT, '#000', 'center'),
  txt(1707, 1219, '(weekly means)', 'bold 19px ' + FONT, '#000', 'center'),
  txt(925, 918, 'NOAA NGS, 6.12.2014 19:19 (GMT)', '11.3px ' + FONT, '#000', 'left'),
  txt(2000, 921, 'NOAA NGS, 9.12.2014 17:40 (GMT)', '11.3px ' + FONT, '#000', 'left'),
  // legend top bars
  {type:'rect', shape:{x:1076, y:36, width:95, height:5}, style:{fill:'#2E3192'}, silent:true, z:60},
  {type:'rect', shape:{x:2131, y:36, width:20, height:5}, style:{fill:'#2E3192'}, silent:true, z:60},
  // annotations
  txt(732, 345, 'Wk 1789', '36px ' + FONT, '#000', 'left'),
  txt(732, 389, 'ESA Model Change', '36px ' + FONT, '#000', 'left'),
  txt(1830, 297, 'Wk 1807', '36px ' + FONT, '#000', 'left'),
  txt(1830, 340, 'SIO Full weight', '36px ' + FONT, '#000', 'left'),
  {type:'polyline', shape:{points:[tipL, apex, tipR]}, style:{stroke:ARROW, lineWidth:5.5, fill:null, lineJoin:'miter'}, silent:true, z:70},
  {type:'polyline', shape:{points:head(tipL, apex, 24, 0.45)}, style:{stroke:ARROW, lineWidth:5.5, fill:null}, silent:true, z:70},
  {type:'polyline', shape:{points:head(tipR, apex, 24, 0.45)}, style:{stroke:ARROW, lineWidth:5.5, fill:null}, silent:true, z:70},
  {type:'polyline', shape:{points:[sioS, sioT]}, style:{stroke:ARROW, lineWidth:4, fill:null}, silent:true, z:70},
  {type:'polyline', shape:{points:head(sioT, sioS, 22, 0.45)}, style:{stroke:ARROW, lineWidth:4, fill:null}, silent:true, z:70},
  // bullet text
  txt(71, 1020, '•', BODY, '#000', 'center'),
  txt(168, 1020, 'Weighted RMS of combination residuals', BODY),
  txt(167, 1097, '•', BODY, '#000', 'center'),
  {type:'text', x:264, y:1097, silent:true, z:50, style:{text:'{bi|Final:} Inter-AC agreement ~7 mm with precision ranges 6.3 mm', font:BODY, fill:'#000', align:'left', verticalAlign:'middle', rich:RICH}},
  txt(264, 1173, 'to 11 mm (1D error)', BODY),
  txt(167, 1250, '•', BODY, '#000', 'center'),
  {type:'text', x:264, y:1250, silent:true, z:50, style:{text:'{bi|Rapid:} Due to ESA\u2019s increased', font:BODY, fill:'#000', align:'left', verticalAlign:'middle', rich:RICH}},
  txt(264, 1327, 'WRMS since wk 1789, COD', BODY),
  txt(264, 1404, 'and NGS became dominant', BODY),
  txt(264, 1481, 'in the orbital rotation definition.', BODY),
  txt(230, 1558, '- NGS\u2019 relatively poor', BODY),
  txt(264, 1634, 'X-rotation is fixed since', BODY),
  txt(264, 1711, 'wk1820', BODY),
  txt(167, 1788, '•', BODY, '#000', 'center'),
  txt(264, 1788, 'Detailed plots can be found', BODY),
  txt(282, 1865, 'at', BODY),
  txt(352, 1865, linkText, BODY, '#0000FF'),
  {type:'rect', shape:{x:352, y:1893, width:linkW, height:3}, style:{fill:'#0000FF'}, silent:true, z:50}
];
chart.setOption({graphic:graphics});
</script>
</body>
</html>
